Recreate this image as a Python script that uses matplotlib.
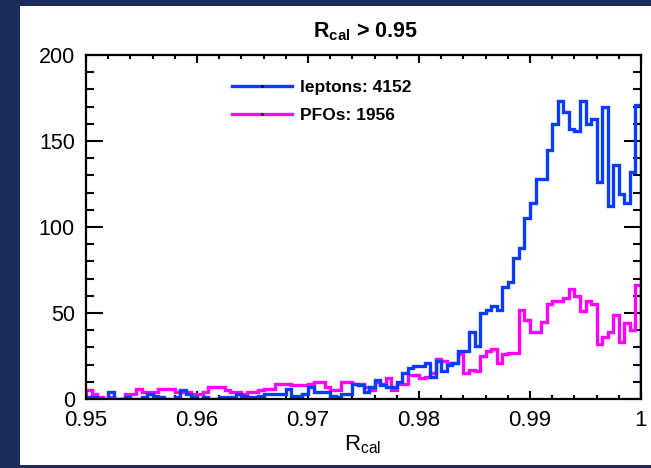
import numpy as np
import matplotlib
matplotlib.use("Agg")
import matplotlib.pyplot as plt
from matplotlib.lines import Line2D
from matplotlib.patches import Rectangle
from matplotlib.ticker import MultipleLocator

plt.rcParams['font.family'] = ['Liberation Sans', 'DejaVu Sans']
plt.rcParams['mathtext.fontset'] = 'custom'
plt.rcParams['mathtext.rm'] = 'Liberation Sans'
plt.rcParams['mathtext.it'] = 'Liberation Sans:italic'
plt.rcParams['mathtext.bf'] = 'Liberation Sans:bold'

# ---------------- data ----------------
x_min, x_max, n_bins = 0.95, 1.0, 100

leptons = [
    1, 1, 0, 0, 4, 0, 0, 1, 0, 0,
    1, 3, 2, 1, 0, 0, 1, 5, 3, 1,
    0, 1, 0, 0, 1, 1, 1, 3, 2, 1,
    1, 2, 3, 3, 3, 3, 6, 2, 2, 3,
    7, 4, 4, 4, 2, 1, 3, 3, 9, 8,
    4, 7, 11, 8, 7, 7, 10, 15, 18, 19,
    19, 21, 13, 22, 16, 20, 21, 28, 28, 39,
    31, 50, 52, 54, 52, 65, 68, 82, 88, 105,
    114, 128, 128, 145, 160, 173, 167, 157, 156, 173,
    160, 163, 126, 170, 112, 136, 119, 114, 132, 171]

pfos = [
    5, 3, 1, 0, 1, 0, 0, 3, 3, 6,
    4, 4, 4, 6, 6, 6, 4, 4, 4, 3,
    3, 4, 7, 7, 7, 5, 4, 4, 3, 4,
    4, 5, 6, 6, 9, 9, 9, 8, 8, 8,
    9, 10, 10, 7, 5, 5, 10, 10, 9, 9,
    7, 5, 10, 9, 12, 5, 9, 9, 14, 14,
    12, 13, 15, 23, 22, 21, 21, 26, 15, 17,
    16, 25, 28, 29, 21, 26, 27, 27, 52, 46,
    39, 39, 45, 55, 57, 57, 59, 64, 60, 51,
    57, 55, 32, 36, 39, 49, 33, 44, 40, 66]

n_leptons = 4152
n_pfos = 1956

x_ticks = [0.95, 0.96, 0.97, 0.98, 0.99, 1.0]
x_tick_labels = ["0.95", "0.96", "0.97", "0.98", "0.99", "1"]
y_ticks = [0, 50, 100, 150, 200]
y_tick_labels = ["0", "50", "100", "150", "200"]

# ---------------- figure ----------------
W, H = 651, 468
fig = plt.figure(figsize=(W / 100, H / 100), dpi=100, facecolor='#1b2c5a')
fig.patches.append(Rectangle((20 / W, 3 / H), (W - 20) / W, (462 - 3) / H,
                             transform=fig.transFigure, facecolor='white',
                             edgecolor='none', zorder=-10))

ax = fig.add_axes([86 / W, 1 - 399 / H, (641 - 86) / W, (399 - 55) / H])
ax.set_zorder(1)
ax.set_facecolor('white')

edges = np.linspace(x_min, x_max, n_bins + 1)
blue = '#0a3cff'
magenta = '#ff00ff'
ax.stairs(pfos, edges, color=magenta, lw=2.4, baseline=0, zorder=3)
ax.stairs(leptons, edges, color=blue, lw=2.4, baseline=0, zorder=4)

ax.set_xlim(x_min, x_max)
ax.set_ylim(0, 200)
ax.set_xticks(x_ticks)
ax.set_xticklabels(x_tick_labels)
ax.set_yticks(y_ticks)
ax.set_yticklabels(y_tick_labels)
ax.xaxis.set_minor_locator(MultipleLocator(0.002))
ax.yaxis.set_minor_locator(MultipleLocator(10))

for s in ax.spines.values():
    s.set_linewidth(1.6)
    s.set_zorder(5)

ax.xaxis.set_tick_params(which='major', direction='in', length=6, width=1.5,
                         top=True, labelsize=16, pad=8)
ax.xaxis.set_tick_params(which='minor', direction='in', length=3, width=1.5,
                         top=True)
ax.yaxis.set_tick_params(which='major', direction='in', length=12, width=1.5,
                         right=True, labelsize=15.5, pad=8)
ax.yaxis.set_tick_params(which='minor', direction='in', length=6, width=1.5,
                         right=True)

# x axis title
fig.text(363 / W, 1 - 445 / H, r'$\mathrm{R_{cal}}$', ha='center', va='center',
         fontsize=16)
# title
fig.text(366 / W, 1 - 32 / H, r'$\mathbf{R_{cal}}$' + ' > 0.95', ha='center',
         va='center', fontsize=15.5, fontweight='bold')

handles = [
    Line2D([], [], color=blue, lw=2.4, marker='.', markersize=2,
           markerfacecolor='k', markeredgecolor='k'),
    Line2D([], [], color=magenta, lw=2.4, marker='.', markersize=2,
           markerfacecolor='k', markeredgecolor='k'),
]
labels = [f"leptons: {n_leptons}", f"PFOs: {n_pfos}"]
leg = ax.legend(handles, labels, loc='upper left',
                bbox_to_anchor=((232 - 86) / 555, (399 - 80) / 344),
                frameon=False, borderaxespad=0, borderpad=0,
                handlelength=3.45, handletextpad=0.45, labelspacing=0.75,
                numpoints=1, prop={'weight': 'bold', 'size': 12.5})

fig.savefig('out.png', dpi=100, facecolor=fig.get_facecolor())
